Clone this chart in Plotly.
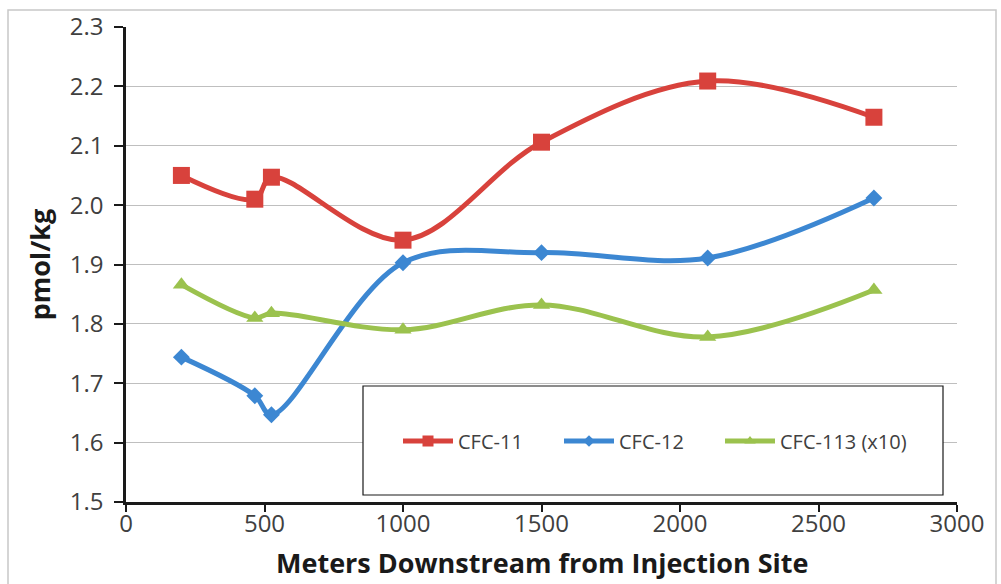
import plotly.graph_objects as go

# Sampling distances downstream (m)
distance_m = [200, 465, 525, 1000, 1500, 2100, 2700]

# Dissolved CFC concentrations (pmol/kg); CFC-113 scaled by 10
cfc11 = [2.050, 2.010, 2.047, 1.941, 2.106, 2.209, 2.148]
cfc12 = [1.744, 1.679, 1.647, 1.903, 1.920, 1.911, 2.012]
cfc113_x10 = [1.866, 1.810, 1.818, 1.790, 1.832, 1.778, 1.857]

series_names = ["CFC-11", "CFC-12", "CFC-113 (x10)"]
series_values = [cfc11, cfc12, cfc113_x10]
series_colors = ["#d8423c", "#3c87d2", "#9bc24e"]
series_symbols = ["square", "diamond", "triangle-up"]
series_sizes = [17, 13, 15]
legend_sizes = [11, 9, 10]
legend_ids = ["legend", "legend2", "legend3"]
# left edge of each legend key, px from the figure's left side
legend_left_px = [398, 559, 720]

y_ticks = [1.5, 1.6, 1.7, 1.8, 1.9, 2.0, 2.1, 2.2, 2.3]
x_ticks = [0, 500, 1000, 1500, 2000, 2500, 3000]
x_title = "Meters Downstream from Injection Site"
y_title = "pmol/kg"

FONT = "Open Sans"
PLOT_L, PLOT_W = 126, 831
PLOT_B, PLOT_H = 502, 475

fig = go.Figure()
for name, vals, col, sym, sz, lsz, lid in zip(series_names, series_values, series_colors,
                                              series_symbols, series_sizes, legend_sizes,
                                              legend_ids):
    # data curve (smoothed line with markers)
    fig.add_trace(go.Scatter(
        x=distance_m, y=vals, name=name, mode="lines+markers", showlegend=False,
        legendgroup=name,
        line=dict(color=col, width=5, shape="spline", smoothing=1.0),
        marker=dict(symbol=sym, size=sz, color=col),
    ))
    # legend key with a smaller marker glyph
    fig.add_trace(go.Scatter(
        x=[None], y=[None], name=name, mode="lines+markers", legendgroup=name,
        legend=lid,
        line=dict(color=col, width=5),
        marker=dict(symbol=sym, size=lsz, color=col),
        hoverinfo="skip",
    ))

legend_style = dict(
    orientation="h", yanchor="middle", xanchor="left",
    y=(PLOT_B - 441) / PLOT_H,
    bgcolor="rgba(0,0,0,0)", borderwidth=0,
    font=dict(family=FONT, size=20, color="#404040"),
    itemwidth=50,
)
legends = {}
for lid, lx in zip(legend_ids, legend_left_px):
    legends[lid] = dict(legend_style, x=(lx - PLOT_L) / PLOT_W)

fig.update_layout(
    width=1001, height=584,
    margin=dict(l=PLOT_L, r=1001 - PLOT_L - PLOT_W, t=27, b=584 - PLOT_B,
                autoexpand=False),
    paper_bgcolor="white", plot_bgcolor="white",
    font=dict(family=FONT, color="#404040"),
    showlegend=True,
    **legends,
    xaxis=dict(
        range=[0, 3000], tickvals=x_ticks, showgrid=False, zeroline=False,
        automargin=False,
        showline=True, linecolor="#1a1a1a", linewidth=2.5,
        ticks="outside", ticklen=7, tickwidth=2, tickcolor="#1a1a1a",
        ticklabelstandoff=-9,
        tickfont=dict(family=FONT, size=24, color="#404040"),
    ),
    yaxis=dict(
        range=[1.5, 2.3], tickvals=y_ticks, tickformat=".1f",
        automargin=False,
        showgrid=True, gridcolor="#bfbfbf", gridwidth=1, zeroline=False,
        showline=True, linecolor="#1a1a1a", linewidth=2.5,
        ticks="outside", ticklen=9, tickwidth=2, tickcolor="#1a1a1a",
        ticklabelstandoff=6,
        tickfont=dict(family=FONT, size=24, color="#404040"),
        title=dict(text=f"<b>{y_title}</b>",
                   font=dict(family=FONT, size=27, color="#1a1a1a"), standoff=12),
    ),
    annotations=[
        # x-axis title, placed below the tick labels
        dict(text=f"<b>{x_title}</b>", xref="paper", yref="paper",
             x=0.5, y=(PLOT_B - 562) / PLOT_H, xanchor="center", yanchor="middle",
             showarrow=False, font=dict(family=FONT, size=27, color="#1a1a1a")),
    ],
    shapes=[
        # legend frame
        dict(type="rect", xref="paper", yref="paper",
             x0=(363 - PLOT_L) / PLOT_W, x1=(943 - PLOT_L) / PLOT_W,
             y0=(PLOT_B - 495) / PLOT_H, y1=(PLOT_B - 386) / PLOT_H,
             line=dict(color="#1a1a1a", width=1.2), fillcolor="white",
             layer="above"),
        # outer chart border
        dict(type="rect", xref="paper", yref="paper",
             x0=(8 - PLOT_L) / PLOT_W, x1=(996 - PLOT_L) / PLOT_W,
             y0=(PLOT_B - 600) / PLOT_H, y1=(PLOT_B - 10) / PLOT_H,
             line=dict(color="#c8c8c8", width=1.5), fillcolor="rgba(0,0,0,0)",
             layer="below"),
    ],
)

fig.write_html("out.html")
